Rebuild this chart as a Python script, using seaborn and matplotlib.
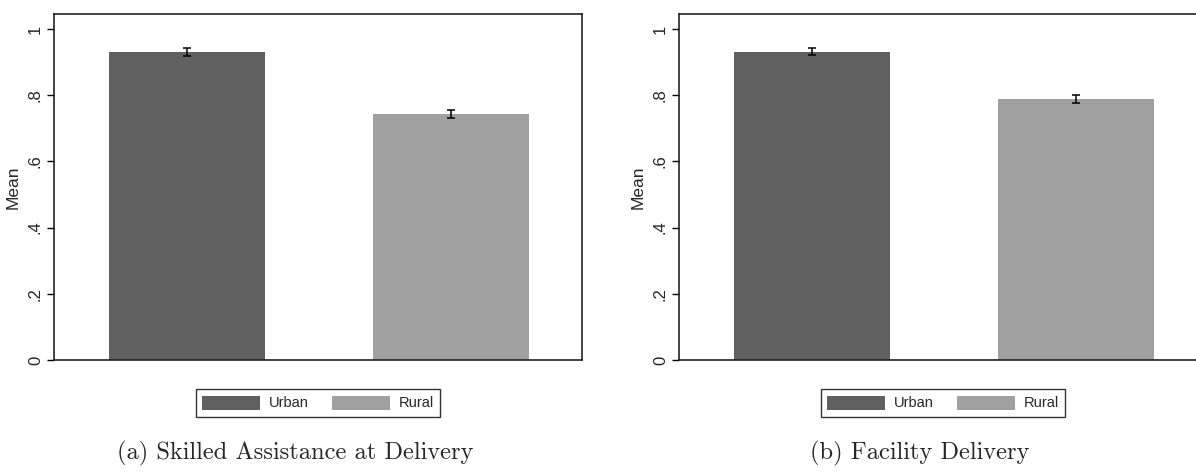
import matplotlib
matplotlib.use("Agg")
import matplotlib.pyplot as plt
import seaborn as sns
import pandas as pd
from matplotlib.patches import Patch

# ---- data ----
categories = ["Urban", "Rural"]
skilled_mean = [0.930, 0.743]
skilled_err = [0.0115, 0.012]
facility_mean = [0.931, 0.789]
facility_err = [0.011, 0.012]
ytick_values = [0, 0.2, 0.4, 0.6, 0.8, 1.0]
ytick_labels = ["0", ".2", ".4", ".6", ".8", "1"]
captions = ["(a) Skilled Assistance at Delivery", "(b) Facility Delivery"]
ylabel = "Mean"

colors = {"Urban": "#606060", "Rural": "#a0a0a0"}

sns.set_style("white")
plt.rcParams["font.family"] = ["Liberation Sans", "DejaVu Sans"]

W, H = 1196, 474
fig = plt.figure(figsize=(W / 100, H / 100), dpi=100)

def px_axes(x0, x1, ytop, ybot):
    return fig.add_axes([x0 / W, (H - ybot) / H, (x1 - x0) / W, (ybot - ytop) / H])

panels = [
    (skilled_mean, skilled_err, 54, 582, 295),
    (facility_mean, facility_err, 679, 1207, 920),
]

for (means, errs, x0, x1, capx), caption in zip(panels, captions):
    ax = px_axes(x0, x1, 14, 360)
    df = pd.DataFrame({"cat": categories, "val": means})
    sns.barplot(data=df, x="cat", y="val", hue="cat", palette=colors,
                order=categories, hue_order=categories, width=0.591,
                errorbar=None, legend=False, ax=ax, linewidth=0, saturation=1)
    ax.errorbar(range(len(categories)), means, yerr=errs, fmt="none",
                ecolor="black", elinewidth=1.1, capsize=2.8, capthick=1.1)
    ax.set_xlim(-0.504, 1.496)
    ax.set_ylim(0, 1.045)
    ax.set_yticks(ytick_values)
    ax.set_yticklabels(ytick_labels, rotation=90, va="center", fontsize=12)
    ax.tick_params(axis="y", left=True, length=5, width=1, color="black", pad=3)
    ax.tick_params(axis="x", bottom=False, labelbottom=False)
    ax.set_xlabel("")
    ax.set_ylabel(ylabel, fontsize=12.5, labelpad=5)
    for s in ax.spines.values():
        s.set_visible(True)
        s.set_color("#222222")
        s.set_linewidth(1.2)
    handles = [Patch(facecolor=colors[c], edgecolor="none", label=c) for c in categories]
    leg = ax.legend(handles=handles, loc="center",
                    bbox_to_anchor=((x0 + x1) / 2 / W, (H - 403) / H),
                    bbox_transform=fig.transFigure, ncol=2,
                    fontsize=10.5, frameon=True, fancybox=False,
                    edgecolor="black", handlelength=3.95, handleheight=1.1,
                    handletextpad=0.62, columnspacing=1.6, borderpad=0.45,
                    borderaxespad=0)
    leg.get_frame().set_linewidth(1.0)
    fig.text(capx / W, (H - 453) / H, caption, ha="center", va="center",
             fontsize=17.6, family=["cmr10", "DejaVu Serif"])

fig.savefig("out.png", dpi=100)
